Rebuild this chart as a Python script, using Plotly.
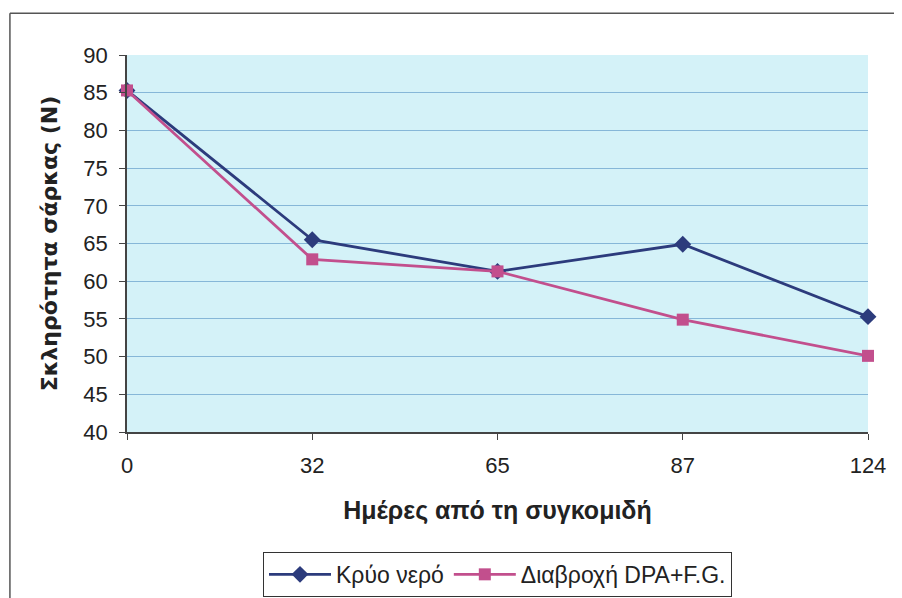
import plotly.graph_objects as go

days = ["0", "32", "65", "87", "124"]
cold_water = [85.3, 65.5, 61.3, 64.9, 55.3]
dpa_fg = [85.3, 62.9, 61.3, 54.9, 50.1]
series_names = ["Κρύο νερό", "Διαβροχή DPA+F.G."]

xi = list(range(len(days)))

fig = go.Figure()
fig.add_trace(go.Scatter(x=xi, y=cold_water, name=series_names[0], mode="lines+markers",
                         line=dict(color="#2c3b7c", width=2.8),
                         marker=dict(symbol="diamond", size=13, color="#2c3b7c"),
                         cliponaxis=False))
fig.add_trace(go.Scatter(x=xi, y=dpa_fg, name=series_names[1], mode="lines+markers",
                         line=dict(color="#c24f8d", width=2.8),
                         marker=dict(symbol="square", size=12, color="#c24f8d"),
                         cliponaxis=False))

font = "Liberation Sans, Arial, sans-serif"
fig.update_layout(
    width=902, height=598,
    margin=dict(l=119, r=42, t=47, b=174, autoexpand=False),
    paper_bgcolor="white", plot_bgcolor="#d4f2f8",
    font=dict(family=font, size=22, color="#222"),
    showlegend=True,
    legend=dict(orientation="h", x=0.5, xanchor="center", y=-0.318, yanchor="top",
                bordercolor="#333", borderwidth=1, bgcolor="white",
                font=dict(size=23), tracegroupgap=0, itemwidth=62),
    xaxis=dict(range=[0, 4], tickvals=xi, ticktext=days, showgrid=False, zeroline=False,
               showline=True, linecolor="#444", linewidth=1.5,
               ticks="outside", ticklen=6, tickcolor="#444", ticklabelstandoff=7,
               tickfont=dict(size=22),
               title=dict(text="<b>Ημέρες από τη συγκομιδή</b>", font=dict(size=25), standoff=24)),
    yaxis=dict(range=[40, 90], dtick=5, showgrid=True, gridcolor="#86b7d8", gridwidth=1,
               zeroline=False, showline=True, linecolor="#444", linewidth=1.5,
               ticks="outside", ticklen=6, tickcolor="#444", ticklabelstandoff=7,
               tickfont=dict(size=22),
               title=dict(text="<b>Σκληρότητα σάρκας (N)</b>",
                          font=dict(size=22, family="DejaVu Sans, sans-serif"), standoff=20)),
    shapes=[
        dict(type="line", xref="paper", yref="paper", x0=-0.158, x1=1.1, y0=1.111, y1=1.111,
             line=dict(color="#555", width=1.5)),
        dict(type="line", xref="paper", yref="paper", x0=-0.158, x1=-0.158, y0=1.111, y1=-0.5,
             line=dict(color="#555", width=1.5)),
    ],
)

fig.write_html("out.html")
